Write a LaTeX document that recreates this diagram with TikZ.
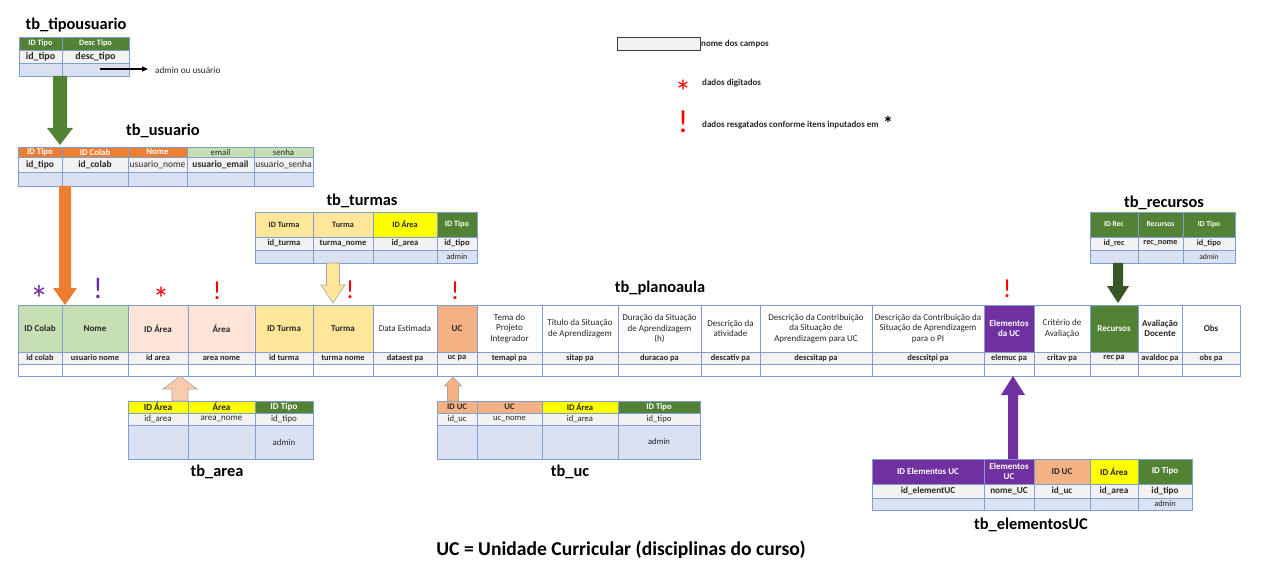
\documentclass[tikz,border=0pt]{standalone}
\usepackage{fontspec}
\setmainfont{Carlito}
\usetikzlibrary{calc,arrows.meta}
\definecolor{cgreen}{HTML}{548235}
\definecolor{cdgreen}{HTML}{375623}
\definecolor{corange}{HTML}{ED7D31}
\definecolor{clgreen}{HTML}{C6E0B4}
\definecolor{cpeach}{HTML}{FCE4D6}
\definecolor{cpeachar}{HTML}{F8CBAD}
\definecolor{clyel}{HTML}{FFE699}
\definecolor{cyel}{HTML}{FFFF00}
\definecolor{cuc}{HTML}{F4B183}
\definecolor{cpurple}{HTML}{7030A0}
\definecolor{cgrey}{HTML}{F2F2F2}
\definecolor{cblue}{HTML}{D9E1F2}
\definecolor{cgrid}{HTML}{7F9FD0}
\definecolor{ctext}{HTML}{262626}
\definecolor{cred}{HTML}{FF0000}
\definecolor{coutl}{HTML}{A6A6A6}
\definecolor{cbox}{HTML}{404040}
\newcommand\cf{\fontsize{8.2}{10}\selectfont}
\newcommand\tcell[9]{%
  \node[cell, fill=#6, text=#7, font=\cf#8, minimum width={#4-#2}, minimum height={#5-#3}] (#1) at ({(#2+#4)/2},{(#3+#5)/2}) {#9};}
\newcommand\blockarrow[6]{%
  \draw[#1] let \p1=(#2), \p2=(#3) in
   ({\x1-#4pt},\y1) -- ({\x1-#4pt},{\y2+(#6pt)}) -- ({\x1-#5pt},{\y2+(#6pt)}) -- (\x2,\y2)
   -- ({\x1+#5pt},{\y2+(#6pt)}) -- ({\x1+#4pt},{\y2+(#6pt)}) -- ({\x1+#4pt},\y1) -- cycle;}
\tikzset{
  cell/.style={draw=cgrid, line width=0.7pt, inner sep=0pt, outer sep=0pt, align=center},
  title/.style={font=\fontsize{16.4}{19}\selectfont\bfseries, text=black, inner sep=0pt},
  legtext/.style={font=\fontsize{9}{11}\selectfont\bfseries, text=ctext, inner sep=0pt, anchor=west},
  mkred/.style={text=cred, font=\fontsize{26}{26}\selectfont, inner sep=0pt},
  mkpur/.style={text=cpurple, font=\fontsize{30}{30}\selectfont, inner sep=0pt},
  starbox/.style={inner sep=0pt, text height=0.8em, text depth=-0.42em},
  mkstarred/.style={starbox, text=cred, font=\fontsize{33}{33}\selectfont},
  mkstarpur/.style={starbox, text=cpurple, font=\fontsize{38}{38}\selectfont},
}
\begin{document}
\begin{tikzpicture}[x=1pt,y=-1pt]
\useasboundingbox[fill=white] (0,0) rectangle (1280,572);

% ---------- tb_tipousuario
\node[title] (ttipo) at (76,25) {tb\_tipousuario};
\foreach \xa/\xb/\hd/\rw [count=\i] in {19/62/{ID Tipo}/{id\_tipo}, 62/129/{Desc Tipo}/{desc\_tipo}}{
  \tcell{tph\i}{\xa}{37}{\xb}{50}{cgreen}{white}{\fontsize{8.2}{10}\selectfont\bfseries}{\hd}
  \tcell{tpr\i}{\xa}{50}{\xb}{63}{cgrey}{ctext}{\fontsize{10}{11}\selectfont\bfseries}{\rw}
  \tcell{tpb\i}{\xa}{63}{\xb}{76}{cblue}{ctext}{}{}
}
\coordinate (admS) at (100,69);
\node[font=\fontsize{9.2}{11}\selectfont, text=ctext, inner sep=0pt, anchor=west] (admT) at (155,70) {admin ou usuário};
\draw[line width=1.3pt, -{Triangle[length=6pt,width=5pt]}, shorten >=7pt] (admS) -- (admS -| admT.west);

% ---------- tb_usuario
\node[title] (tusu) at (163,131) {tb\_usuario};
\foreach \xa/\xb/\fc/\tc/\fw/\hd/\rf/\rw [count=\i] in {
 18/62/corange/white/\bfseries/{ID Tipo}/\bfseries/{id\_tipo},
 62/128/corange/white/\bfseries/{ID Colab}/\bfseries/{id\_colab},
 128/187/corange/white/\bfseries/Nome/\mdseries/{usuario\_nome},
 187/254/clgreen/ctext/\mdseries/email/\bfseries/{usuario\_email},
 254/313/clgreen/ctext/\mdseries/senha/\mdseries/{usuario\_senha}}{
  \tcell{uh\i}{\xa}{147}{\xb}{157}{\fc}{\tc}{\fontsize{8.8}{10}\selectfont\fw}{\hd}
  \tcell{ur\i}{\xa}{157}{\xb}{172}{cgrey}{ctext}{\fontsize{9.5}{11}\selectfont\rf}{\rw}
  \tcell{ub\i}{\xa}{172}{\xb}{186}{cblue}{ctext}{}{}
}

% ---------- tb_turmas
\node[title] (tturm) at (362,201) {tb\_turmas};
\foreach \xa/\xb/\fc/\tc/\hd/\rw/\bw [count=\i] in {
 255/313/clyel/ctext/{ID Turma}/{id\_turma}/{},
 313/373/clyel/ctext/Turma/{turma\_nome}/{},
 373/437/cyel/ctext/{ID Área}/{id\_area}/{},
 437/477/cgreen/white/{ID Tipo}/{id\_tipo}/admin}{
  \tcell{th\i}{\xa}{212}{\xb}{237}{\fc}{\tc}{\fontsize{8.2}{10}\selectfont\bfseries}{\hd}
  \tcell{tr\i}{\xa}{237}{\xb}{250}{cgrey}{ctext}{\fontsize{8.6}{10}\selectfont\bfseries}{\rw}
  \tcell{tb\i}{\xa}{250}{\xb}{263}{cblue}{ctext}{\fontsize{8.2}{10}\selectfont}{\bw}
}

% ---------- tb_recursos
\node[title] (trec) at (1164,203) {tb\_recursos};
\foreach \xa/\xb/\hd/\rw/\bw [count=\i] in {
 1090/1138/{ID Rec}/{id\_rec}/{},
 1138/1183/Recursos/{rec\_nome}/{},
 1183/1235/{ID Tipo}/{id\_tipo}/admin}{
  \tcell{rh\i}{\xa}{212}{\xb}{237}{cgreen}{white}{\fontsize{7.6}{9}\selectfont\bfseries}{\hd}
  \tcell{rr\i}{\xa}{237}{\xb}{250}{cgrey}{ctext}{\fontsize{8.2}{10}\selectfont\bfseries}{\rw}
  \tcell{rb\i}{\xa}{250}{\xb}{263}{cblue}{ctext}{\fontsize{7.6}{9}\selectfont}{\bw}
}

% ---------- tb_planoaula
\node[title] (tplano) at (660,288) {tb\_planoaula};
\foreach \xa/\xb/\fc/\tc/\fw/\hd/\rw [count=\i] in {
 18/62/clgreen/ctext/\bfseries/{ID Colab}/{id colab},
 62/128/clgreen/ctext/\bfseries/Nome/{usuario nome},
 128/188/cpeach/ctext/\bfseries/{ID Área}/{id area},
 188/255/cpeach/ctext/\bfseries/Área/{area nome},
 255/313/clyel/ctext/\bfseries/{ID Turma}/{id turma},
 313/373/clyel/ctext/\bfseries/Turma/{turma nome},
 373/437/white/ctext/\mdseries/{Data Estimada}/{dataest pa},
 437/477/cuc/ctext/\bfseries/UC/{uc pa},
 477/542/white/ctext/\mdseries/{Tema do\\Projeto\\Integrador}/{temapi pa},
 542/618/white/ctext/\mdseries/{Titulo da Situação\\de Aprendizagem}/{sitap pa},
 618/701/white/ctext/\mdseries/{Duração da Situação\\de Aprendizagem\\(h)}/{duracao pa},
 701/760/white/ctext/\mdseries/{Descrição da\\atividade}/{descativ pa},
 760/872/white/ctext/\mdseries/{Descrição da Contribuição\\da Situação de\\Aprendizagem para UC}/{descsitap pa},
 872/984/white/ctext/\mdseries/{Descrição da Contribuição da\\Situação de Aprendizagem\\para o PI}/{descsitpi pa},
 984/1034/cpurple/white/\bfseries/{Elementos\\da UC}/{elemuc pa},
 1034/1090/white/ctext/\mdseries/{Critério de\\Avaliação}/{critav pa},
 1090/1138/cgreen/white/\bfseries/Recursos/{rec pa},
 1138/1182/white/ctext/\bfseries/{Avaliação\\Docente}/{avaldoc pa},
 1182/1240/white/ctext/\bfseries/Obs/{obs pa}}{
  \tcell{mh\i}{\xa}{305}{\xb}{352}{\fc}{\tc}{\fontsize{9}{10.4}\selectfont\fw}{\hd}
  \tcell{mr\i}{\xa}{352}{\xb}{364}{cgrey}{ctext}{\fontsize{8.4}{10}\selectfont\bfseries}{\rw}
  \tcell{mb\i}{\xa}{364}{\xb}{376}{white}{ctext}{}{}
}

% ---------- tb_area
\node[title] (tarea) at (217,472) {tb\_area};
\foreach \xa/\xb/\fc/\tc/\hd/\rw/\bw [count=\i] in {
 128/188/cyel/ctext/{ID Área}/{id\_area}/{},
 188/255/cyel/ctext/Área/{area\_nome}/{},
 255/313/cgreen/white/{ID Tipo}/{id\_tipo}/admin}{
  \tcell{ah\i}{\xa}{401}{\xb}{413}{\fc}{\tc}{\fontsize{9.2}{10}\selectfont\bfseries}{\hd}
  \tcell{ar\i}{\xa}{413}{\xb}{425}{cgrey}{ctext}{\fontsize{9}{10}\selectfont}{\rw}
  \tcell{ab\i}{\xa}{425}{\xb}{459}{cblue}{ctext}{\fontsize{8.8}{10}\selectfont}{\bw}
}

% ---------- tb_uc
\node[title] (tuc) at (570,472) {tb\_uc};
\foreach \xa/\xb/\fc/\tc/\hd/\rw/\bw [count=\i] in {
 437/477/cuc/ctext/{ID UC}/{id\_uc}/{},
 477/542/cuc/ctext/UC/{uc\_nome}/{},
 542/618/cyel/ctext/{ID Área}/{id\_area}/{},
 618/700/cgreen/white/{ID Tipo}/{id\_tipo}/admin}{
  \tcell{ch\i}{\xa}{401}{\xb}{413}{\fc}{\tc}{\fontsize{8.6}{10}\selectfont\bfseries}{\hd}
  \tcell{cr\i}{\xa}{413}{\xb}{425}{cgrey}{ctext}{\fontsize{8.6}{10}\selectfont}{\rw}
  \tcell{cb\i}{\xa}{425}{\xb}{459}{cblue}{ctext}{\fontsize{8.6}{10}\selectfont}{\bw}
}

% ---------- tb_elementosUC
\node[title] (telem) at (1031,525) {tb\_elementosUC};
\foreach \xa/\xb/\fc/\tc/\hd/\rw/\bw [count=\i] in {
 872/984/cpurple/white/{ID Elementos UC}/{id\_elementUC}/{},
 984/1034/cpurple/white/{Elementos\\UC}/{nome\_UC}/{},
 1034/1090/cuc/ctext/{ID UC}/{id\_uc}/{},
 1090/1138/cyel/ctext/{ID Área}/{id\_area}/{},
 1138/1192/cgreen/white/{ID Tipo}/{id\_tipo}/admin}{
  \tcell{eh\i}{\xa}{459}{\xb}{484}{\fc}{\tc}{\fontsize{9}{10.4}\selectfont\bfseries}{\hd}
  \tcell{er\i}{\xa}{484}{\xb}{498}{cgrey}{ctext}{\fontsize{9.2}{10}\selectfont\bfseries}{\rw}
  \tcell{eb\i}{\xa}{498}{\xb}{510}{cblue}{ctext}{\fontsize{8.4}{10}\selectfont}{\bw}
}

% ---------- block arrows
\coordinate (a1s) at (60,76);    \coordinate (a1t) at (60,145);
\coordinate (a2s) at (65,186);   \coordinate (a2t) at (65,305);
\coordinate (a3s) at (333,263);  \coordinate (a3t) at (333,303);
\coordinate (a4s) at (1118,263); \coordinate (a4t) at (1118,303);
\coordinate (a5s) at (180,401);  \coordinate (a5t) at (180,376);
\coordinate (a6s) at (453,401);  \coordinate (a6t) at (453,377);
\coordinate (a7s) at (1013,459); \coordinate (a7t) at (1013,376);
\blockarrow{fill=cgreen, draw=none}{a1s}{a1t}{7}{13}{17}
\blockarrow{fill=corange, draw=none}{a2s}{a2t}{6}{12}{17}
\blockarrow{fill=clyel, draw=coutl, line width=0.6pt}{a3s}{a3t}{6.5}{12}{18}
\blockarrow{fill=cdgreen, draw=none}{a4s}{a4t}{5}{11}{17}
\blockarrow{fill=cpeachar, draw=coutl, line width=0.6pt}{a5s}{a5t}{8}{17}{-13}
\blockarrow{fill=cuc, draw=coutl, line width=0.6pt}{a6s}{a6t}{5.5}{8.5}{-9}
\blockarrow{fill=cpurple, draw=none}{a7s}{a7t}{5}{12}{-19}

% ---------- markers
\node[mkstarpur] (mk1) at (39,308) {*};
\node[mkpur] (mk2) at (98,288) {!};
\node[mkstarred] (mk3) at (161,306) {*};
\node[mkred] (mk4) at (217,291) {!};
\node[mkred] (mk5) at (350,290) {!};
\node[mkred] (mk6) at (455,291) {!};
\node[mkred] (mk7) at (1007,289) {!};

% ---------- legend
\node[draw=cbox, fill=cgrey, line width=0.8pt, minimum width=83, minimum height=13, inner sep=0pt] (lgbox) at (658.5,43.5) {};
\node[legtext] (lg1) at (701,44) {nome dos campos};
\node[mkstarred] (lgstar) at (683,100) {*};
\node[legtext] (lg2) at (702,83) {dados digitados};
\node[text=cred, font=\fontsize{32}{32}\selectfont, inner sep=0pt] (lgexc) at (683,122) {!};
\node[legtext] (lg3) at (702,125) {dados resgatados conforme itens inputados em};
\node[starbox, font=\fontsize{20}{20}\selectfont\bfseries, text=black] (lg4) at (888,127) {*};

% ---------- caption
\node[font=\fontsize{19.6}{23}\selectfont\bfseries, text=black, inner sep=0pt] (cap) at (621,550) {UC = Unidade Curricular (disciplinas do curso)};
\end{tikzpicture}
\end{document}
